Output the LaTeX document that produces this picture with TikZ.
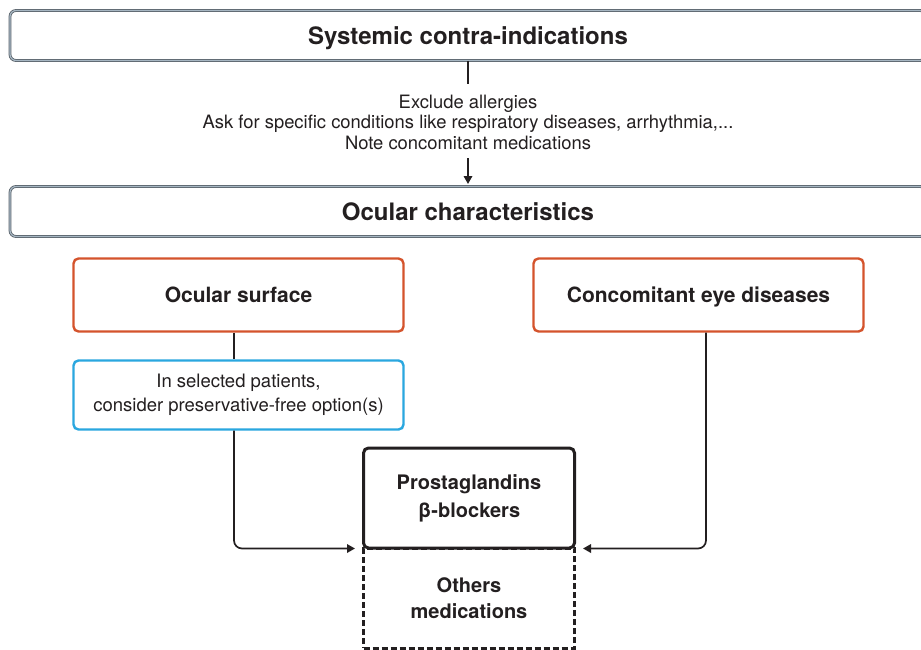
\documentclass[tikz,border=0pt]{standalone}
\usepackage{fontspec}
\setmainfont{TeX Gyre Heros}
\usetikzlibrary{arrows.meta}
\definecolor{hdrdark}{HTML}{59626A}
\definecolor{hdrlight}{HTML}{A6B6C2}
\definecolor{orangebd}{HTML}{D4532C}
\definecolor{bluebd}{HTML}{2AA7DF}
\definecolor{txt}{HTML}{231F20}
\tikzset{
  hdrbox/.style={draw=hdrdark, double=hdrlight, double distance=1.2pt, line width=0.8pt,
    rounded corners=6pt, minimum width=916pt, minimum height=50pt, inner sep=0pt, text depth=0pt,
    font=\fontsize{24}{28}\selectfont\bfseries, text=txt},
  catbox/.style={draw=orangebd, line width=2.4pt, rounded corners=5pt, minimum width=330pt,
    minimum height=73pt, inner sep=0pt, text depth=0pt, font=\fontsize{21}{24}\selectfont\bfseries, text=txt},
  notebox/.style={draw=bluebd, line width=2.4pt, rounded corners=5pt, minimum width=330pt,
    minimum height=69pt, inner sep=0pt, align=center, font=\fontsize{18.5}{24}\selectfont, text=txt},
  medbox/.style={draw=txt, line width=3pt, rounded corners=5pt, minimum width=211pt,
    minimum height=100pt, inner sep=0pt, align=center, font=\fontsize{20}{28}\selectfont\bfseries, text=txt},
  othbox/.style={draw=txt, line width=3pt, dash pattern=on 6pt off 3pt, minimum width=211pt,
    minimum height=100pt, inner sep=0pt, align=center, font=\fontsize{20}{26}\selectfont\bfseries, text=txt},
  plaintext/.style={align=center, inner sep=0pt, font=\fontsize{18.4}{20.5}\selectfont, text=txt},
  conn/.style={draw=txt, line width=1.7pt},
  arr/.style={conn, -{Triangle[length=8pt,width=8.5pt]}},
}
\begin{document}
\begin{tikzpicture}[x=1pt,y=-1pt]
\useasboundingbox[fill=white] (0,0) rectangle (921,649);
\node[hdrbox] (sys) at (468,35.5) {Systemic contra-indications};
\node[plaintext] (note) at (468,122) {Exclude allergies\\Ask for specific conditions like respiratory diseases, arrhythmia,...\\Note concomitant medications};
\node[hdrbox] (ocu) at (468,211.5) {Ocular characteristics};
\node[catbox] (surf) at (238.5,295) {Ocular surface};
\node[catbox] (eye) at (698.5,295) {Concomitant eye diseases};
\node[notebox] (pf) at (238.5,395) {In selected patients,\\consider preservative-free option(s)};
\node[medbox] (pb) at (469,498) {Prostaglandins\\β-blockers};
\node[othbox] (oth) at (469,598) {Others\\medications};
\coordinate (t1) at (468,84);
\coordinate (t2) at (468,158);
\draw[conn] (sys.south -| 468,0) -- (t1);
\draw[arr] (t2) -- (468,184);
\draw[conn] (surf.south -| 234,0) -- (pf.north -| 234,0);
\draw[arr, rounded corners=8pt] (pf.south -| 234,0) |- ([xshift=-7pt,yshift=1pt]pb.south west);
\draw[arr, rounded corners=8pt] (eye.south -| 706,0) |- ([xshift=7pt,yshift=1pt]pb.south east);
\end{tikzpicture}
\end{document}
